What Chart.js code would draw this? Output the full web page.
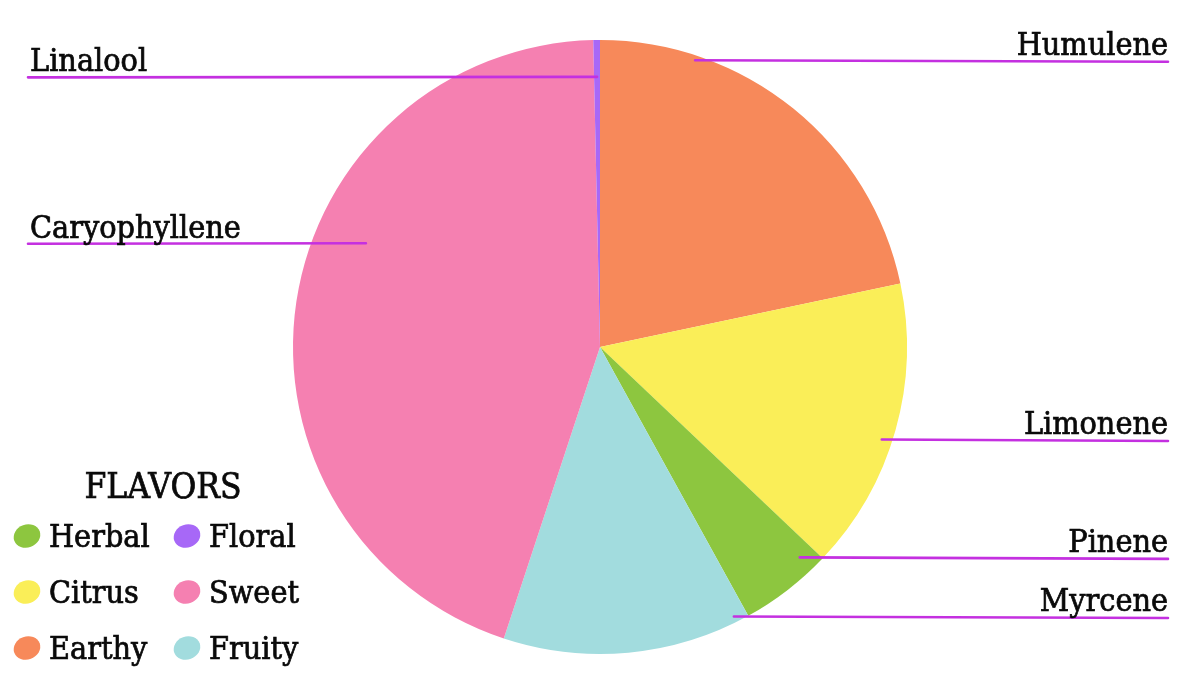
<!DOCTYPE html>
<html>
<head>
<meta charset="utf-8">
<script src="https://cdn.jsdelivr.net/npm/chart.js@4.4.1/dist/chart.umd.min.js"></script>
<style>
  html, body { margin: 0; padding: 0; background: #ffffff; }
  #wrap { width: 1200px; height: 679px; position: relative; }
</style>
</head>
<body>
<div id="wrap"><canvas id="c" width="1200" height="679"></canvas></div>
<script>
// ---- data ----
const terpenes = ['Humulene', 'Limonene', 'Pinene', 'Myrcene', 'Caryophyllene', 'Linalool'];
const shares = [21.7, 15.4, 4.9, 13.1, 44.6, 0.35];
const terpeneFlavor = ['Earthy', 'Citrus', 'Herbal', 'Fruity', 'Sweet', 'Floral'];
const flavors = ['Herbal', 'Floral', 'Citrus', 'Sweet', 'Earthy', 'Fruity'];
const flavorColors = {
  Herbal: '#8DC63F',
  Floral: '#A768F7',
  Citrus: '#FAEE58',
  Sweet: '#F580B1',
  Earthy: '#F7895A',
  Fruity: '#A2DCDE'
};
const legendTitle = 'FLAVORS';

// ---- label layout (annotation styling, not data) ----
// anchor: fraction along slice angle, fraction of radius; side of label
const labelLayout = [
  { t: 0.235, r: 0.984, side: 'right' },
  { t: 0.543, r: 0.966, side: 'right' },
  { t: 0.17,  r: 0.945, side: 'right' },
  { t: 0.052, r: 0.98,  side: 'right' },
  { t: 0.596, r: 0.834, side: 'left'  },
  { t: 0.5,   r: 0.88,  side: 'left'  }
];

const FONT_FAMILY = '"DejaVu Serif Condensed", "DejaVu Serif", serif';
const LINE_COLOR = '#C430E0';
const TEXT_COLOR = '#0a0a0a';

function heavyText(ctx, s, x, y) {
  ctx.fillText(s, x, y);
  ctx.lineWidth = 0.7;
  ctx.strokeStyle = TEXT_COLOR;
  ctx.strokeText(s, x, y);
}

const labelPlugin = {
  id: 'leaderLabels',
  afterDraw(chart) {
    const ctx = chart.ctx;
    const meta = chart.getDatasetMeta(0);
    ctx.save();
    meta.data.forEach((arc, i) => {
      const p = arc.getProps(['x', 'y', 'startAngle', 'endAngle', 'outerRadius'], true);
      const L = labelLayout[i];
      const a = p.startAngle + L.t * (p.endAngle - p.startAngle);
      const ax = p.x + Math.cos(a) * p.outerRadius * L.r;
      const ay = p.y + Math.sin(a) * p.outerRadius * L.r;
      const endX = L.side === 'right' ? 1168 : 28;
      // leader line
      ctx.strokeStyle = LINE_COLOR;
      ctx.lineWidth = 2.6;
      ctx.lineCap = 'round';
      ctx.beginPath();
      ctx.moveTo(ax, ay);
      ctx.lineTo(endX, ay + (L.side === 'right' ? 1.5 : 0.5));
      ctx.stroke();
      // text
      ctx.fillStyle = TEXT_COLOR;
      ctx.font = '32px ' + FONT_FAMILY;
      ctx.textBaseline = 'alphabetic';
      ctx.textAlign = L.side === 'right' ? 'right' : 'left';
      heavyText(ctx, terpenes[i], L.side === 'right' ? 1168 : 30, ay - 5.5);
    });

    // legend
    ctx.textAlign = 'center';
    ctx.font = '35px ' + FONT_FAMILY;
    ctx.fillStyle = TEXT_COLOR;
    heavyText(ctx, legendTitle, 163, 498);
    const colX = [27, 187];
    const rowY = [536, 592, 648];
    ctx.font = '32px ' + FONT_FAMILY;
    flavors.forEach((f, k) => {
      const cx = colX[k % 2];
      const cy = rowY[Math.floor(k / 2)];
      ctx.fillStyle = flavorColors[f];
      ctx.beginPath();
      ctx.ellipse(cx, cy, 13.5, 11.5, -0.35, 0, Math.PI * 2);
      ctx.fill();
      ctx.fillStyle = TEXT_COLOR;
      ctx.textAlign = 'left';
      heavyText(ctx, f, cx + 22, cy + 11);
    });
    ctx.restore();
  }
};

new Chart(document.getElementById('c'), {
  type: 'pie',
  data: {
    labels: terpenes,
    datasets: [{
      data: shares,
      backgroundColor: terpeneFlavor.map(f => flavorColors[f]),
      borderWidth: 0
    }]
  },
  options: {
    responsive: false,
    animation: false,
    layout: { padding: { top: 40, bottom: 25, left: 0, right: 0 } },
    plugins: {
      legend: { display: false },
      tooltip: { enabled: false }
    }
  },
  plugins: [labelPlugin]
});
</script>
</body>
</html>
